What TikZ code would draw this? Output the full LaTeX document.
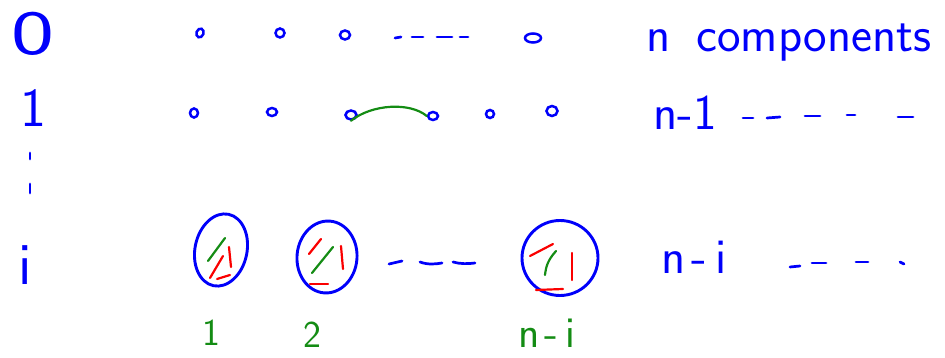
\documentclass[tikz,border=0pt]{standalone}
\usepackage{fontspec}
\usetikzlibrary{shapes.geometric}
\definecolor{inkblue}{RGB}{0,0,250}
\definecolor{inkgreen}{RGB}{20,140,20}
\definecolor{inkred}{RGB}{250,0,0}
\begin{document}
\begin{tikzpicture}[x=1pt,y=-1pt,
  ink/.style={draw=inkblue,line width=2.7pt,line cap=round},
  greenstroke/.style={draw=inkgreen,line width=2.2pt,line cap=round},
  redstroke/.style={draw=inkred,line width=2.2pt,line cap=round},
  dotnode/.style={ellipse,draw=inkblue,line width=2.5pt,inner sep=0pt},
  blob/.style={ellipse,draw=inkblue,line width=2.9pt,inner sep=0pt},
  lab/.style={text=inkblue,inner sep=0pt,font=\sffamily\fontsize{50}{50}\selectfont},
  glab/.style={text=inkgreen,inner sep=0pt,font=\sffamily\fontsize{44}{44}\selectfont}]
\useasboundingbox (0,0) rectangle (945,358);

% row labels on the left
\node[lab,font=\sffamily\fontsize{63}{63}\selectfont,xscale=1.45,transform shape] (r0) at (33,34) {0};
\node[lab,font=\sffamily\fontsize{55}{55}\selectfont,anchor=base] (r1) at (33,127) {1};
\draw[ink] (30,153) -- (30,159);
\draw[ink] (30,184) -- (30,193);
\node[lab,font=\sffamily\fontsize{60}{60}\selectfont,anchor=base] (ri) at (25,284) {i};

% row 0: n single vertices
\node[dotnode,minimum width=7pt,minimum height=9pt,rotate=-20] (a1) at (200,33) {};
\node[dotnode,minimum width=9pt,minimum height=9pt] (a2) at (280,33) {};
\node[dotnode,minimum width=10pt,minimum height=9pt] (a3) at (345,35) {};
\draw[ink] (395,38) -- (401,37);
\draw[ink] (412,37) -- (423,37);
\draw[ink] (437,37) -- (452,37);
\draw[ink] (460,37) -- (468,37);
\node[dotnode,minimum width=16pt,minimum height=9pt] (a4) at (533,38) {};
\node[lab,anchor=base west] (t0) at (646,52) {n\hspace{26pt}components};

% row 1: one edge joins two vertices
\node[dotnode,minimum width=8pt,minimum height=9pt] (b1) at (194,113) {};
\node[dotnode,minimum width=10pt,minimum height=8pt] (b2) at (272,112) {};
\node[dotnode,minimum width=11pt,minimum height=9pt] (b3) at (351,115) {};
\node[dotnode,minimum width=10pt,minimum height=8pt] (b4) at (433,116) {};
\node[dotnode,minimum width=8pt,minimum height=8pt] (b5) at (490,114) {};
\node[dotnode,minimum width=11pt,minimum height=10pt] (b6) at (552,111) {};
\draw[greenstroke] (b3.south) .. controls (372,104) and (410,102) .. (b4.west);
\node[lab,anchor=base west] (t1) at (653,130) {n-1};
\draw[ink] (743,118) -- (753,118);
\draw[ink] (767,118) -- (780,117);
\draw[ink] (805,116) -- (820,116);
\draw[ink] (847,115) -- (855,115);
\draw[ink] (898,117) -- (913,117);

% row i: n-i components, each with a few edges inside
\node[blob,minimum width=52pt,minimum height=73pt,rotate=-12] (c1) at (221,250) {};
\draw[greenstroke] (208,261) -- (225,238);
\draw[redstroke] (210,278) -- (223,256);
\draw[redstroke] (229,247) -- (231,267);
\draw[redstroke] (217,279) -- (230,275);

\node[blob,minimum width=60pt,minimum height=72pt,rotate=-5] (c2) at (327,257) {};
\draw[redstroke] (309,254) -- (321,239);
\draw[greenstroke] (312,273) -- (333,247);
\draw[redstroke] (341,246) -- (343,269);
\draw[redstroke] (310,284) -- (328,284);

\draw[ink] (389,264) -- (402,261);
\draw[ink] (420,262) .. controls (428,265) and (436,264) .. (442,263);
\draw[ink] (453,262) .. controls (460,264) and (468,264) .. (475,263);

\node[blob,minimum width=76pt,minimum height=75pt] (c3) at (560,258) {};
\draw[redstroke] (530,256) -- (553,244);
\draw[greenstroke] (556,251) .. controls (548,260) and (546,266) .. (545,275);
\draw[redstroke] (572,253) -- (572,280);
\draw[redstroke] (536,290) -- (563,289);

\node[lab,anchor=base west] (ti) at (661,273) {n\hspace{6pt}-\hspace{8pt}i};
\draw[ink] (790,267) -- (800,266);
\draw[ink] (812,263) -- (826,263);
\draw[ink] (856,262) -- (868,262);
\draw[ink] (900,262) -- (904,264);

% component numbers
\node[glab,font=\sffamily\fontsize{38}{38}\selectfont,anchor=base] (l1) at (211,345) {1};
\node[glab,font=\sffamily\fontsize{38}{38}\selectfont,anchor=base] (l2) at (312,347) {2};
\node[glab,anchor=base west] (l3) at (518,347) {n\hspace{5pt}-\hspace{7pt}i};
\end{tikzpicture}
\end{document}
